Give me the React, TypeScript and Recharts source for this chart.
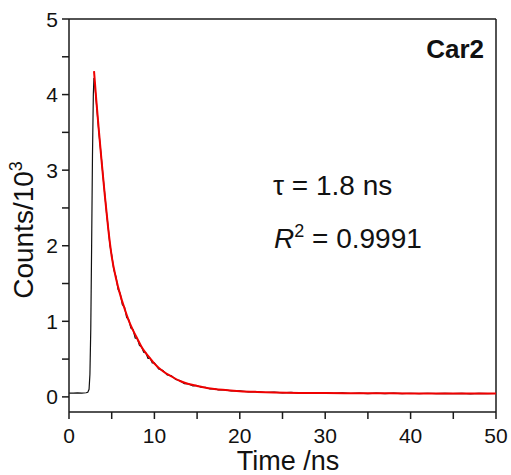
import React from "react";
import { LineChart, Line, XAxis, YAxis, ReferenceLine } from "recharts";

// Measured decay (black) — time in ns, counts / 10^3
const measuredTime = [
  0, 0.5, 1.0, 1.5, 2.0, 2.2, 2.35, 2.45, 2.55, 2.65, 2.75, 2.85, 2.92, 3.0,
  3.2, 3.5, 3.8, 4.0, 4.2, 4.4, 4.6, 4.8, 5.0, 5.25, 5.5, 5.75, 6.0, 6.25,
  6.5, 6.75, 7.0, 7.25, 7.5, 7.75, 8.0, 8.25, 8.5, 8.75, 9.0, 9.25, 9.5,
  9.75, 10, 10.5, 11, 11.5, 12, 12.5, 13, 13.5, 14, 14.5, 15, 15.5, 16,
  16.5, 17, 17.5, 18, 19, 20, 21, 22, 23, 24, 25, 26, 27, 28, 29, 30, 31,
  32, 33, 34, 35, 36, 37, 38, 39, 40, 41, 42, 43, 44, 45, 46, 47, 48, 49, 50,
];
const measuredCounts = [
  0.05, 0.05, 0.052, 0.05, 0.055, 0.06, 0.1, 0.3, 0.9, 2.0, 3.2, 4.0, 4.22,
  4.16, 3.9, 3.5, 3.15, 2.9, 2.67, 2.43, 2.23, 2.0, 1.88, 1.68, 1.59, 1.42,
  1.37, 1.22, 1.19, 1.05, 1.02, 0.91, 0.89, 0.78, 0.77, 0.68, 0.66, 0.59,
  0.58, 0.51, 0.51, 0.45, 0.45, 0.37, 0.35, 0.29, 0.28, 0.23, 0.215, 0.175,
  0.172, 0.145, 0.15, 0.125, 0.125, 0.105, 0.11, 0.092, 0.097, 0.08, 0.08,
  0.066, 0.07, 0.058, 0.063, 0.053, 0.06, 0.05, 0.056, 0.048, 0.054, 0.046,
  0.052, 0.045, 0.051, 0.044, 0.05, 0.044, 0.049, 0.043, 0.048, 0.042,
  0.048, 0.042, 0.047, 0.042, 0.047, 0.041, 0.046, 0.042, 0.045,
];

// Fitted curve (red)
const fitTime = [
  2.93, 3.2, 3.5, 3.8, 4.2, 4.6, 5.0, 5.5, 6.0, 6.5, 7.0, 7.5, 8.0, 8.5, 9.0,
  9.5, 10, 11, 12, 13, 14, 15, 16, 17, 18, 20, 22, 24, 27, 30, 35, 40, 45, 50,
];
const fitCounts = [
  4.31, 3.92, 3.52, 3.14, 2.66, 2.22, 1.86, 1.57, 1.35, 1.17, 1.01, 0.88,
  0.77, 0.66, 0.58, 0.51, 0.44, 0.34, 0.27, 0.21, 0.17, 0.145, 0.12, 0.105,
  0.093, 0.076, 0.066, 0.059, 0.053, 0.05, 0.048, 0.046, 0.045, 0.044,
];

const xTicks = [0, 5, 10, 15, 20, 25, 30, 35, 40, 45, 50];
const yTicks = [0, 0.5, 1, 1.5, 2, 2.5, 3, 3.5, 4, 4.5, 5];
const xMax = 50;
const yMax = 5;

const labelTitle = "Car2";
const labelTau = "τ = 1.8 ns";
const labelR2Value = " = 0.9991";

const measuredData = measuredTime.map((t, i) => ({ t, v: measuredCounts[i] }));
const fitData = fitTime.map((t, i) => ({ t, v: fitCounts[i] }));

const FONT = "'Liberation Sans', Arial, sans-serif";
const AXIS = "#1a1a1a";
const TICK_LEN = 7;

const XTick = (props: any) => {
  const { x, y, payload } = props;
  if (payload.value % 10 !== 0) return <g />;
  return (
    <text x={x} y={y} dy={17} textAnchor="middle" fontSize={21} fontFamily={FONT} fill="#111" stroke="none">
      {payload.value}
    </text>
  );
};

const YTick = (props: any) => {
  const { x, y, payload } = props;
  if (!Number.isInteger(payload.value)) return <g />;
  return (
    <text x={x} y={y} dy="0.36em" textAnchor="end" fontSize={21} fontFamily={FONT} fill="#111" stroke="none">
      {payload.value}
    </text>
  );
};

export default function App() {
  return (
    <div style={{ position: "absolute", left: 0, top: 0, width: 511, height: 475, background: "#fff" }}>
      <LineChart
        width={511}
        height={475}
        margin={{ top: 19, right: 15, left: 0, bottom: 0 }}
      >
        <XAxis
          dataKey="t"
          type="number"
          domain={[0, xMax]}
          ticks={xTicks}
          interval={0}
          height={63}
          tickSize={TICK_LEN}
          tickMargin={7}
          tickLine={{ stroke: AXIS, strokeWidth: 1.5 }}
          tick={<XTick />}
          axisLine={{ stroke: AXIS, strokeWidth: 1.5 }}
          allowDataOverflow
        />
        <YAxis
          type="number"
          domain={[-0.2, yMax]}
          ticks={yTicks}
          interval={0}
          width={69}
          tickSize={TICK_LEN}
          tickMargin={4}
          tickLine={{ stroke: AXIS, strokeWidth: 1.5 }}
          tick={<YTick />}
          axisLine={{ stroke: AXIS, strokeWidth: 1.5 }}
          allowDataOverflow
        />
        <ReferenceLine y={yMax} stroke={AXIS} strokeWidth={1.5} ifOverflow="extendDomain" />
        <ReferenceLine x={xMax} stroke={AXIS} strokeWidth={1.5} ifOverflow="extendDomain" />
        <Line
          data={measuredData}
          dataKey="v"
          type="linear"
          stroke="#111"
          strokeWidth={1.2}
          dot={false}
          isAnimationActive={false}
        />
        <Line
          data={fitData}
          dataKey="v"
          type="monotone"
          stroke="#f00000"
          strokeWidth={2}
          dot={false}
          isAnimationActive={false}
        />
      </LineChart>
      <svg
        width={511}
        height={475}
        style={{ position: "absolute", left: 0, top: 0, pointerEvents: "none" }}
      >
        <text x={288} y={470} textAnchor="middle" fontSize={27} fontFamily={FONT} fill="#111">
          Time /ns
        </text>
        <text
          x={33}
          y={230}
          transform="rotate(-90, 33, 230)"
          textAnchor="middle"
          fontSize={28}
          fontFamily={FONT}
          fill="#111"
        >
          Counts/10
          <tspan fontSize={18} dy={-11}>3</tspan>
        </text>
        <text x={484} y={58} textAnchor="end" fontSize={26} fontWeight="bold" fontFamily={FONT} fill="#111">
          {labelTitle}
        </text>
        <text x={273} y={195} fontSize={28} fontFamily={FONT} fill="#111">
          {labelTau}
        </text>
        <text x={274} y={248} fontSize={28} fontFamily={FONT} fill="#111">
          <tspan fontStyle="italic">R</tspan>
          <tspan fontSize={18} dy={-11}>2</tspan>
          <tspan dy={11}>{labelR2Value}</tspan>
        </text>
      </svg>
    </div>
  );
}
